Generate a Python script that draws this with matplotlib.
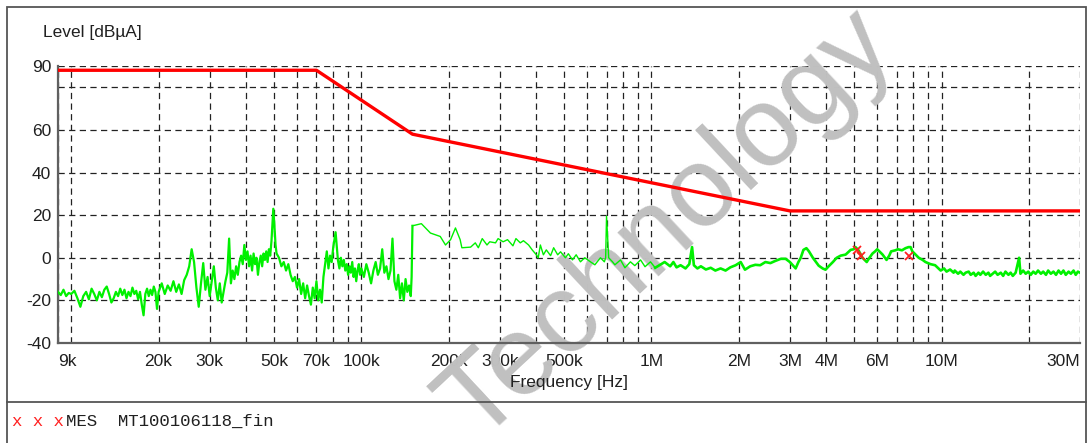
import matplotlib
matplotlib.use("Agg")
import matplotlib.pyplot as plt
from matplotlib.patches import Rectangle
from matplotlib.lines import Line2D

# limit line (Hz, dBuA)
limit_freq = [9e3, 70e3, 150e3, 3e6, 30e6]
limit_level = [88, 88, 58, 22, 22]

# measured trace, 9k - 150k (kHz, dBuA)
low_freq_k = [9.0, 9.2, 9.4, 9.6, 9.8,
              10.0, 10.25, 10.5, 10.75, 11.0, 11.25, 11.5, 11.75, 12.0, 12.25, 12.5, 12.75,
              13.0, 13.25, 13.5, 13.75, 14.0, 14.25, 14.5, 14.75, 15.0, 15.25, 15.5, 15.75,
              16.0, 16.25, 16.5, 16.75, 17.0, 17.25, 17.5, 17.75, 18.0, 18.25, 18.5, 18.75,
              19.0, 19.25, 19.5, 19.75,
              20.0, 20.5, 21.0, 21.5, 22.0, 22.5, 23.0, 23.5, 24.0, 24.5, 25.0, 25.5,
              26.0, 26.5, 27.0, 27.5, 28.0, 28.5, 29.0, 29.5, 30.0, 30.5, 31.0, 31.5,
              32.0, 32.5, 33.0, 33.5, 34.0, 34.5, 35.0, 35.5, 36.0, 36.5, 37.0, 37.5,
              38.0, 38.5, 39.0, 39.5, 40.0, 40.5, 41.0, 41.5, 42.0, 42.5, 43.0, 43.5,
              44.0, 44.5, 45.0, 45.5, 46.0, 46.5, 47.0, 47.5, 48.0, 48.5, 49.0, 49.7,
              50.2, 50.6, 51.0, 52.0, 53.0, 54.0, 55.0, 56.0, 57.0, 58.0, 59.0, 60.0,
              61.0, 62.0, 63.0, 64.0, 65.0, 66.0, 67.0, 68.0, 69.0, 70.0, 71.0, 72.0,
              73.0, 74.0, 75.0, 76.0, 77.0, 78.0, 79.0, 80.0, 81.5, 82.5, 83.0, 84.0,
              85.0, 86.0, 87.0, 88.0, 89.0, 90.0, 91.0, 92.0, 93.0, 94.0, 95.0, 96.0,
              97.0, 98.0, 99.0, 100.0, 102, 104, 106, 108, 110, 112, 114, 116,
              118, 120, 122, 124, 126, 128, 130, 132, 134, 136, 138, 140,
              142, 144, 146, 148, 149, 150]
low_level = [-16, -17.5, -15, -18, -16.5,
             -17, -15.5, -19, -23, -18, -16, -19.5, -14.5, -17, -20, -16, -18.5,
             -15, -13.5, -17, -21, -19, -16, -18, -14.5, -17.5, -15, -19, -16,
             -18, -14, -17, -15.5, -19.5, -16, -22, -27, -17, -14.5, -18, -15,
             -17.5, -13.5, -16, -24,
             -16, -12, -17, -13, -15.5, -11, -16, -12.5, -17, -10.5, -8, -4,
             4, -2, -14, -23, -12, -2.5, -15, -9, -18, -11, -4, -14,
             -20, -12, -21, -16, -11, -7, 9, -12, -6, -10, -4, -8,
             -2, 1, -3, 6, -1, 3, -4, 1, -6, 2, -3, 0,
             -8, -2, 1, -4, 2, -1, 3, -2, 4, 1, 8, 23,
             14, 6, 2, 0, -4, -2, -6, -3, -8, -11, -9, -14,
             -10, -17, -12, -19, -13, -18, -22, -14, -19, -11, -20, -15,
             -21, -9, -3, 3, -5, 1, -2, 5, 12, 3, -1, -5,
             0, -4, -1, -6, -3, -8, -4, -7, -2, -9, -5, -11,
             -6, -3, -8, -5, -9, -3, -7, -12, -6, -2, -8, -5,
             4, -7, -4, -10, -6, 9, -11, -15, -8, -19, -12, -20,
             -10, -16, -13, -18, -9, 15]

# measured trace, 150k - 1M (kHz, dBuA)
mid_freq_k = [150, 161, 173, 187, 195, 203, 211, 219, 222, 238, 247, 253, 261, 271,
              277, 290, 296, 308, 319, 333, 341, 353, 362, 377, 388, 401, 407, 414,
              424, 434, 449, 460, 475, 486, 505, 517, 534, 550, 569, 589, 616, 638,
              667, 688, 695, 700, 712, 734, 748, 782, 810, 846, 876, 917, 950, 992, 1030]
mid_level = [15, 16, 11.6, 10, 6, 8.5, 14, 8.5, 4.7, 5, 7, 4.7, 9, 6,
             7.5, 7, 9, 7.5, 8.5, 5.6, 9, 7, 8, 6, 3.7, 1.4, 0, 6,
             1.4, 3.7, 1, 4.7, 1.4, 2.8, 0, 1.9, -1, 1.4, -1.9, 0, -1.9, -3.3,
             0, -1.9, 0, 19.5, 0, -1.9, -3.3, -1, -4.7, -1.9, -3.7, -1, -4.2, -1.9, -4.7]

# measured trace, 1M - 30M (MHz, dBuA)
high_freq_m = [1.03, 1.07, 1.11, 1.16, 1.19, 1.22, 1.26, 1.31, 1.35, 1.38, 1.40, 1.44,
               1.48, 1.54, 1.60, 1.66, 1.73, 1.80, 1.87, 1.95, 2.03, 2.10, 2.19, 2.28,
               2.37, 2.47, 2.57, 2.67, 2.79, 2.90, 3.00, 3.07, 3.14, 3.21, 3.27, 3.34,
               3.42, 3.49, 3.60, 3.69, 3.77, 3.89, 3.98, 4.08, 4.22, 4.35, 4.49, 4.67,
               4.86, 4.98, 5.05, 5.17, 5.34, 5.52, 5.64, 5.78, 5.90, 6.00, 6.26, 6.46,
               6.60, 6.70, 6.93, 7.07, 7.30, 7.51, 7.69, 7.82, 7.93, 8.34, 8.60, 8.80,
               9.16, 9.50, 9.93, 10.2, 10.4, 10.7, 11.0, 11.1, 11.4, 11.6, 11.9, 12.1,
               12.4, 12.6, 12.9, 13.1, 13.4, 13.6, 13.9, 14.2, 14.5, 14.7, 15.0, 15.3,
               15.6, 16.0, 16.3, 16.6, 17.0, 17.3, 17.6, 18.0, 18.5, 18.7, 19.1, 19.5,
               19.9, 20.3, 20.7, 21.1, 21.5, 22.0, 22.4, 22.9, 23.3, 23.8, 24.3, 24.8,
               25.3, 25.8, 26.3, 26.8, 27.4, 27.9, 28.5, 29.0, 29.5, 30.0]
high_level = [-4.7, -3.3, -2, -4, -2, -4.5, -3.5, -5, -3, 5, -3.5, -5,
              -4, -5.5, -4.7, -6, -5, -6, -4.5, -3.5, -2, -5.6, -4, -3.3,
              -3.5, -2, -2.5, -1.5, -0.5, -0.5, -2, -3.5, -5, -2, 0, 3.7,
              4.5, 3, 0, -2, -3.7, -5, -5.6, -4, -2, 0, 1, 1.5,
              3.7, 4, 5, 3.5, 0, -2, 0, 2, 3, 4, 1.5, -1,
              1, 3, 3.5, 4, 3.5, 4.5, 5, 5, 3, 0, -1, -2,
              -3, -3.5, -6, -5, -6.5, -5.5, -7, -6, -7.5, -6.5, -8, -7,
              -6.5, -8, -7, -8.5, -7, -8, -6.5, -8, -7, -8.5, -7.5, -6.5,
              -8, -7, -8.5, -6.5, -8, -7, -8.5, -7, 0, -7.5, -6, -7.5,
              -6.5, -8, -6.5, -7.5, -6, -7.5, -6.5, -8, -6, -7.5, -6.5, -8,
              -6, -7.5, -6, -8, -6.5, -7.5, -6, -8, -6.5, -7]

# final measurement markers (MHz, dBuA)
mark_freq_m = [5.09, 5.26, 7.70]
mark_level = [3.8, 1.0, 0.9]

# x axis labels
grid_freq = [f * m for m in [1e4, 1e5, 1e6] for f in range(1, 10)] + [1e7, 2e7, 3e7]
label_map = {9e3: "9k", 2e4: "20k", 3e4: "30k", 5e4: "50k", 7e4: "70k", 1e5: "100k",
             2e5: "200k", 3e5: "300k", 5e5: "500k", 1e6: "1M", 2e6: "2M", 3e6: "3M",
             4e6: "4M", 6e6: "6M", 1e7: "10M", 3e7: "30M"}
y_ticks = [-40, -20, 0, 20, 40, 60, 80, 90]
y_labels = ["-40", "-20", "0", "20", "40", "60", "", "90"]

plt.rcParams['font.family'] = ['Liberation Sans', 'DejaVu Sans']

W, H = 1089, 443
fig = plt.figure(figsize=(W / 100, H / 100), dpi=100)
ax = fig.add_axes([58 / W, 1 - 343 / H, (1080 - 58) / W, (343 - 66) / H])

ax.set_xscale('log')
ax.set_xlim(9e3, 30e6)
ax.set_ylim(-40, 90)

ticks = [9e3] + grid_freq
ax.set_xticks(ticks)
ax.set_xticklabels([label_map.get(t, "") for t in ticks])
ax.xaxis.set_minor_locator(matplotlib.ticker.NullLocator())
labels = ax.get_xticklabels()
labels[0].set_horizontalalignment('left')
labels[-1].set_horizontalalignment('right')
ax.set_yticks(y_ticks)
ax.set_yticklabels(y_labels)
ax.tick_params(length=0, labelsize=12.5, colors='#202020')
ax.tick_params(axis='x', pad=8)
ax.tick_params(axis='y', pad=5)

ax.grid(True, color='#222222', linestyle=(0, (5, 3.5)), linewidth=0.9)
for s in ['top', 'right']:
    ax.spines[s].set_visible(False)
for s in ['left', 'bottom']:
    ax.spines[s].set_color('#606060')
    ax.spines[s].set_linewidth(1.6)

green = '#00f000'
ax.plot([f * 1e3 for f in low_freq_k], low_level, color=green, lw=1.6, zorder=3)
ax.plot([f * 1e3 for f in mid_freq_k], mid_level, color=green, lw=1.0, zorder=3)
ax.plot([f * 1e6 for f in high_freq_m], high_level, color=green, lw=1.9, zorder=3)
ax.plot(limit_freq, limit_level, color='#ff0000', lw=2.4, zorder=4, solid_joinstyle='round')
ax.plot([f * 1e6 for f in mark_freq_m], mark_level, 'x', color='#ff2020', ms=6, mew=1.3, zorder=5)

# watermark
ax.text(668 / W, 1 - 226 / H, "Technology", transform=fig.transFigure, rotation=43,
        fontsize=82, color='#c0c0c0', ha='center', va='center', rotation_mode='anchor',
        clip_on=False, zorder=2.5)

fig.text(43 / W, 1 - 32 / H, "Level [dBµA]", fontsize=12.5, va='center', ha='left', color='#202020')
fig.text(569 / W, 1 - 383 / H, "Frequency [Hz]", fontsize=12.5, va='center', ha='center', color='#202020')

# outer frame and legend row
fig.patches.append(Rectangle((7 / W, -0.02), (1086 - 7) / W, 1 - 7 / H + 0.02,
                             transform=fig.transFigure, fill=False, edgecolor='#555555', lw=1.3))
fig.lines.append(Line2D([7 / W, 1086 / W], [1 - 402 / H, 1 - 402 / H],
                        transform=fig.transFigure, color='#555555', lw=1.3))
fig.text(12 / W, 1 - 421 / H, "x x x", family='Liberation Mono', fontsize=12.5,
         color='#ff2020', va='center')
fig.text(66 / W, 1 - 421 / H, "MES  MT100106118_fin", family='Liberation Mono',
         fontsize=12.5, color='#202020', va='center')

fig.savefig("out.png", dpi=100)
